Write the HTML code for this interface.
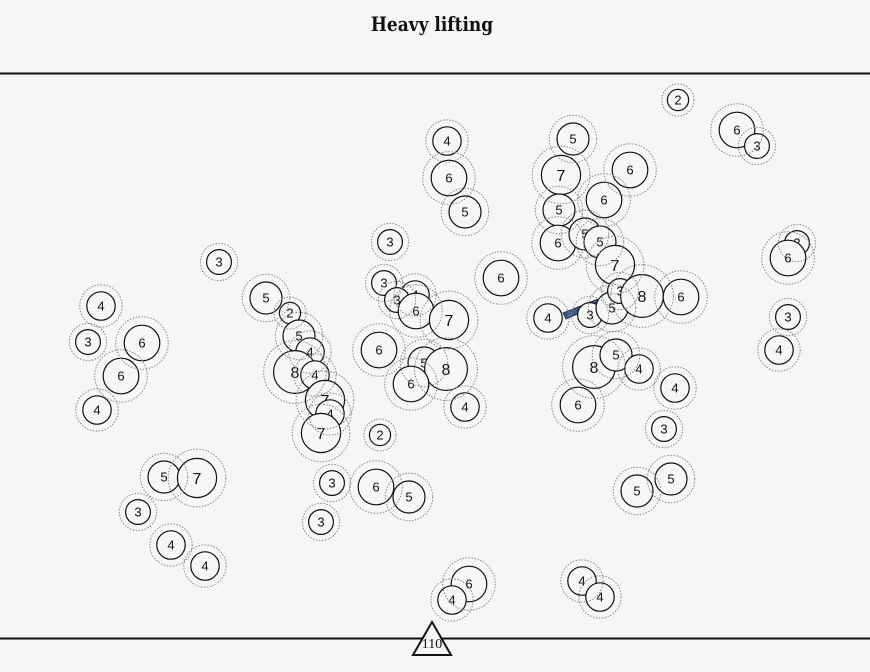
<!DOCTYPE html>
<html><head><meta charset="utf-8"><style>
body{margin:0;background:#f7f5f6;}
svg{display:block}
</style></head><body>
<svg id="chart" width="870" height="672" viewBox="0 0 870 672">
<rect width="870" height="672" fill="#f7f5f6"/>
<text x="432" y="31" text-anchor="middle" font-family="DejaVu Serif, serif" font-weight="bold" font-size="20" fill="#111" transform="translate(432 0) scale(0.85 1) translate(-432 0)">Heavy lifting</text>
<line x1="0" y1="73.5" x2="870" y2="73.5" stroke="#111" stroke-width="2"/>
<line x1="0" y1="638.5" x2="870" y2="638.5" stroke="#111" stroke-width="2"/>
<polygon points="563,313 598,299 601,304 566,319" fill="#3d5a8a" stroke="#222" stroke-width="0.8"/>
<g id="nodes"></g>
<g id="halos"></g>
<polygon points="432,622 413,655 451,655" fill="#f7f5f6" stroke="#111" stroke-width="2"/>
<text x="432" y="648" text-anchor="middle" font-family="Liberation Serif, serif" font-size="14" fill="#111">110</text>
</svg>
<script>
const xs=[678,737,757,447,449,465,573,561,630,604,559,558,585,600,615,797,788,219,390,501,101,88,142,121,97,266,290,299,310,295,315,325,330,321,384,415,397,416,449,379,424,446,411,465,380,548,590,612,620,642,681,594,616,639,675,578,664,788,779,164,197,138,171,205,332,376,409,321,637,671,469,452,582,600];
const ys=[100,130,146,141,178,212,139,175,170,200,210,243,234,242,265,243,258,262,242,278,306,342,343,376,410,298,313,336,352,372,375,400,414,433,283,295,300,311,320,350,363,369,384,407,435,318,315,308,291,296,297,367,355,369,388,405,429,317,350,477,478,512,545,566,483,487,497,522,491,479,584,600,581,597];
const vals=[2,6,3,4,6,5,5,7,6,6,5,6,5,5,7,3,6,3,3,6,4,3,6,6,4,5,2,5,4,8,4,7,4,7,3,4,3,6,7,6,5,8,6,4,2,4,3,5,3,8,6,8,5,4,4,6,3,3,4,5,7,3,4,4,3,6,5,3,5,5,6,4,4,4];
const NS='http://www.w3.org/2000/svg';
const g=document.getElementById('nodes');
const hg=document.getElementById('halos');
function rad(v){return 7+1.8*v;}
for(let i=0;i<vals.length;i++){
  const r=rad(vals[i]);
  const grp=document.createElementNS(NS,'g');
  
  
  const c=document.createElementNS(NS,'circle');
  c.setAttribute('cx',xs[i]);c.setAttribute('cy',ys[i]);c.setAttribute('r',r);
  c.setAttribute('fill','#f7f5f6');c.setAttribute('stroke','#111');c.setAttribute('stroke-width','1.2');
  
  
  const t=document.createElementNS(NS,'text');
  t.setAttribute('x',xs[i]);t.setAttribute('y',ys[i]+(vals[i]>=7?6:4.5));
  t.setAttribute('text-anchor','middle');t.setAttribute('font-family','Liberation Sans, sans-serif');
  t.setAttribute('font-size',vals[i]>=7?16:13);t.setAttribute('fill','#111');
  t.textContent=vals[i];
  
  
  grp.appendChild(c);grp.appendChild(t);
  g.appendChild(grp);
  const ring=document.createElementNS(NS,'circle');
  ring.setAttribute('cx',xs[i]);ring.setAttribute('cy',ys[i]);ring.setAttribute('r',r*1.42+1);
  ring.setAttribute('fill','none');ring.setAttribute('stroke','#888');ring.setAttribute('stroke-width','1');ring.setAttribute('stroke-dasharray','1.5,1.5');
  
  
  hg.appendChild(ring);
}
</script>
</body></html>
